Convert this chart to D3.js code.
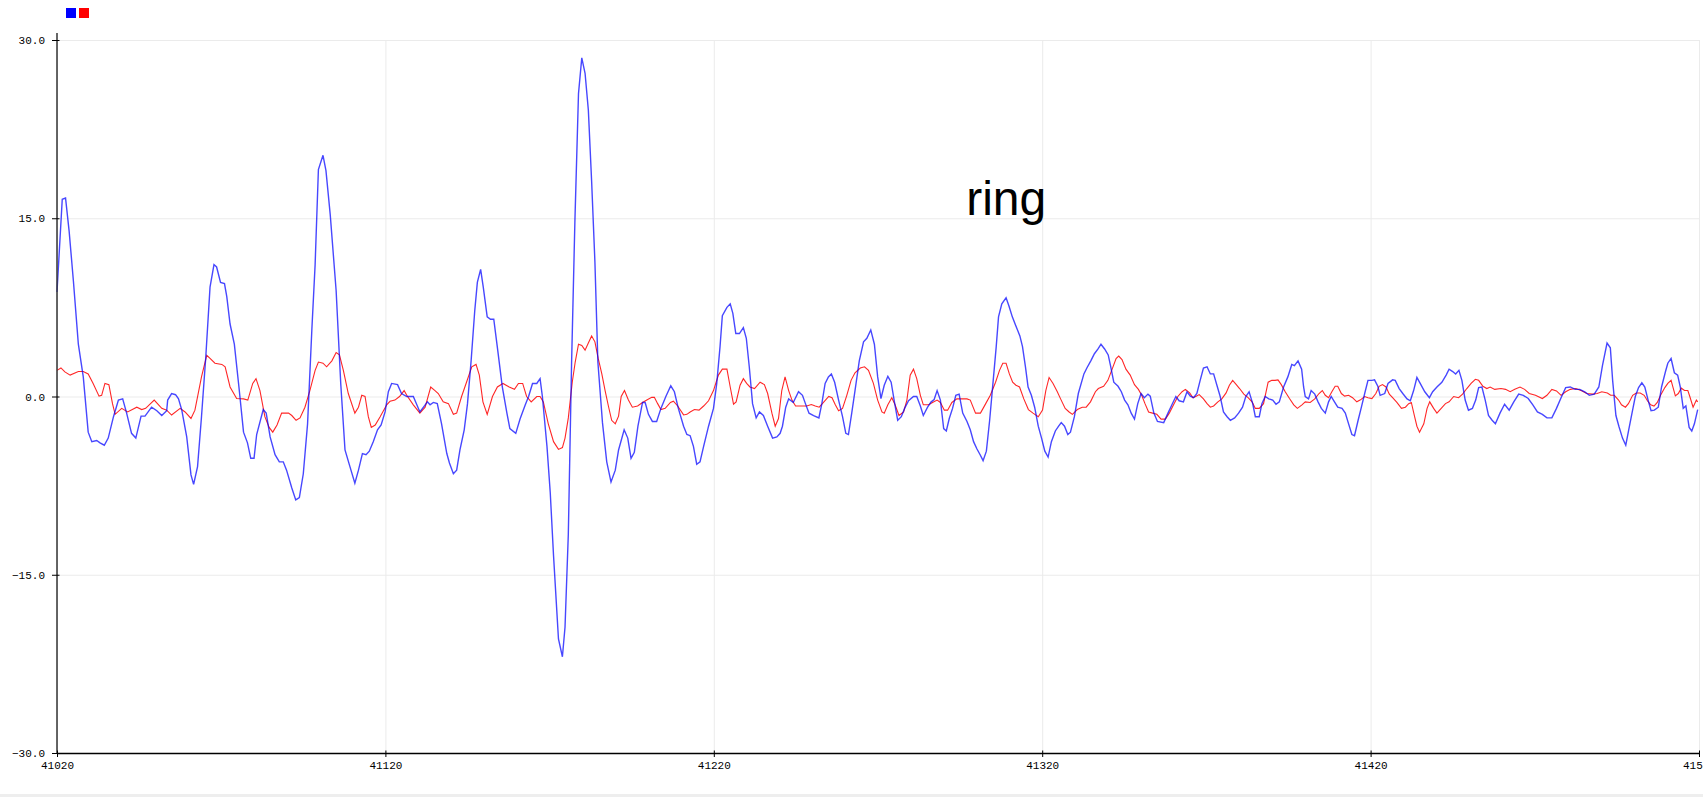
<html>
<head>
<meta charset="utf-8">
<script src="https://d3js.org/d3.v7.min.js"></script>
<style>
body{margin:0;background:#fff;overflow:hidden;}
.tick text{font-family:"Liberation Mono","DejaVu Sans Mono",monospace;font-size:11px;fill:#000;}
</style>
</head>
<body>
<div id="chart"></div>
<script>
// serial plotter window: samples 41020..41520
const X0 = 41020;
const xTicks = [41020, 41120, 41220, 41320, 41420, 41520];
const yTicks = [-30, -15, 0, 15, 30];
const seriesColors = ['blue', 'red'];
const label = 'ring';

// [sample offset from X0, value]
const blue = [[0,8.8],[1.6,16.6],[2.6,16.7],[3.7,13.9],[5,9.7],[6.5,4.4],[8,1.65],[9.5,-3.0],[10.6,-3.8],[12.1,-3.7],[13.1,-3.9],[14.4,-4.1],[15.6,-3.5],[17.2,-1.7],[18.7,-0.3],[20,-0.2],[21.2,-1.4],[22.7,-3.1],[24,-3.5],[25.6,-1.65],[26.8,-1.65],[28.8,-0.9],[30.4,-1.2],[31.9,-1.6],[33.4,-1.2],[33.7,-0.3],[34.9,0.25],[36.1,0.15],[37,-0.2],[38,-1.15],[39.5,-3.4],[40.8,-6.6],[41.6,-7.4],[42.8,-5.9],[44,-1.7],[45.3,3.3],[46.6,9.2],[47.8,11.1],[48.6,10.9],[49.8,9.6],[51,9.5],[51.7,8.4],[52.7,6.1],[54,4.4],[55.4,0.8],[56.8,-3.0],[58,-3.9],[59,-5.2],[60,-5.2],
[60.8,-3.2],[62.8,-1.1],[63.7,-1.4],[64.9,-3.4],[66.4,-4.9],[67.7,-5.5],[68.9,-5.5],[69.9,-6.2],[71.5,-7.7],[72.7,-8.7],[73.8,-8.5],[75,-6.5],[76.3,-2.3],[77.6,5.6],[78.6,11.1],[79.6,19.1],[81,20.3],[81.9,19.0],[83.2,15.3],[85,8.9],[86.4,1.1],[87.7,-4.5],[89.2,-5.9],[90.7,-7.3],[91.8,-6.2],[93,-4.8],[94.1,-4.9],[95.1,-4.6],[96.3,-3.8],[97.6,-2.8],[98.7,-2.4],[99.9,-1.3],[100.9,0.4],[101.9,1.1],[103.7,1.0],[104.9,0.25],[106.5,0],[108.5,0],[110.5,-1.3],[111.6,-0.9],[112.8,-0.45],[113.6,-0.7],[114.6,-0.5],[115.8,-0.6],[117.1,-2.3],[118.7,-4.8],
[119.5,-5.6],[120.7,-6.5],[121.7,-6.2],[122.7,-4.5],[124,-2.8],[125,-0.6],[126.1,3.0],[127.2,7.2],[128,9.6],[129,10.7],[129.8,9.2],[131,6.7],[132,6.5],[133,6.5],[134.2,3.9],[135.6,0.8],[137,-1.4],[137.9,-2.7],[139.7,-3.1],[141,-1.9],[142.6,-0.7],[143.6,0],[144.8,1.1],[146.1,1.1],[147.1,1.5],[147.8,0],[149.2,-4.2],[150.2,-8.1],[151.2,-13.4],
[152.7,-20.4],[153.9,-21.9],[154.7,-19.4],[155.7,-11.6],[156.7,2.9],[157.7,14.7],[158.8,25.5],[159.8,28.5],[160.8,27.2],[161.8,24.1],[162.8,18.1],[163.8,11.3],[164.7,2.9],[166.1,-2.2],[167.4,-5.5],[168.7,-7.2],[170,-6.2],[171,-4.5],[172.7,-2.8],[173.8,-3.5],[174.8,-5.2],[175.8,-4.7],[176.9,-2.5],[178.3,-0.5],[179.1,-0.5],[180.1,-1.5],[181.3,-2.1],[182.6,-2.1],[183.9,-1.0],[185.4,0],[186.9,0.9],[188,0.4],[189.2,-1.0],[190.8,-2.5],[191.8,-3.2],[192.8,-3.3],[193.8,-4.2],[194.8,-5.7],
[195.8,-5.5],[196.9,-4.2],[198.4,-2.5],[199.9,-1.0],[200.9,1.1],[201.9,4.2],[202.6,6.8],[204,7.5],[205,7.8],[205.8,7.0],[206.7,5.3],[207.8,5.3],[209,5.8],[209.9,4.9],[210.8,2.5],[211.8,-0.6],[212.9,-1.8],[213.9,-1.3],[215.1,-1.6],[216.4,-2.5],[217.9,-3.5],[219.2,-3.4],[220.2,-3.1],[220.9,-2.5],[221.9,-0.9],[222.8,-0.2],[224.2,-0.5],[225.8,0.4],[227,0.1],[227.9,-0.6],[229,-1.4],[230.4,-1.6],[232,-1.8],[232.9,-0.6],[233.9,1.1],[234.9,1.65],[235.8,1.9],[236.8,1.2],[238,-0.3],[239.2,-1.7],[240.2,-3.1],[241,-3.2],[242,-1.4],[243,0.5],[244.3,3.0],[245.6,4.6],[246.6,4.9],[247.8,5.6],[248.9,4.4],[249.9,1.65],[250.9,-0.17],[251.9,0.95],[253,1.7],[254,1.2],[255,-0.45],[256,-2.0],
[257.1,-1.7],[258.1,-1.0],[259.3,-0.36],[260.8,0],[261.8,0],[262.9,-0.8],[263.8,-1.6],[265.1,-0.9],[266.2,-0.45],[267.1,-0.25],[268,0.5],[269,-0.3],[270,-2.7],[270.8,-2.9],[271.7,-1.85],[272.7,-1.0],[273.7,0.1],[274.7,0.2],[275.8,-1.4],[277.1,-2.1],[278.1,-2.8],[279.1,-3.8],[280.1,-4.4],[281.1,-4.9],[282,-5.4],[283,-4.6],[284,-2.0],[285,1.1],[286,4.2],[286.7,6.7],[287.7,7.8],[289,8.3],[289.9,7.6],[290.9,6.7],[291.9,6.0],[293.2,5.1],[294,4.2],[294.9,2.5],[295.7,0.8],[296.7,0.1],[297.7,-0.9],[298.8,-2.5],[299.8,-3.5],[300.8,-4.6],[301.8,-5.1],[302.8,-3.8],[304,-2.9],[305,-2.5],[305.8,-2.2],[306.8,-2.5],[307.8,-3.2],[308.6,-3.0],[309.8,-1.7],[311,0.25],[312.7,1.9],[313.6,2.4],[314.8,3.0],[315.9,3.6],
[317,4.0],[317.9,4.4],[319,4.0],[320.1,3.5],[320.8,2.6],[321.8,1.2],[323.1,0.86],[324.1,0.4],[325.1,-0.3],[326.1,-0.7],[327.1,-1.4],[328.1,-1.9],[329.1,-0.6],[330.1,0.25],[331.1,-0.1],[332.2,0.2],[332.9,0.03],[334,-1.4],[335.1,-2.1],[337,-2.2],[338.3,-1.4],[339.5,-0.7],[340.7,0],[341.7,-0.36],[343,-0.45],[344.1,0.4],[345.1,0.03],[346.1,-0.1],[347.1,0.25],[348.1,1.36],[349.1,2.4],[350.2,2.5],[351.2,1.9],[352.2,1.9],[353.2,0.95],[354.2,0],[355.2,-1.3],[356.3,-1.7],[357.3,-2.0],[358.6,-1.8],[359.8,-1.4],[361,-0.9],[362,0],[363,0.4],[364.1,-0.6],[364.9,-1.7],[366.1,-1.7],[366.9,-0.6],[367.9,0],[369,-0.2],[370.2,-0.3],[371.2,-0.65],[372.2,-0.45],[373.5,0.8],[374.8,1.65],[376,2.7],[376.8,2.6],[377.9,3.0],
[379,2.3],[379.6,0.8],[380.1,0],[381.1,-0.2],[381.9,0.5],[383,0.2],[384,-0.45],[385,-1.0],[386.2,-1.4],[387.2,-0.45],[388,0],[389,-0.45],[390,-0.9],[391.3,-1.0],[392.3,-1.4],[393.3,-2.3],[394.3,-3.2],[395.1,-3.3],[396.2,-2.0],[397.2,-0.9],[398.2,0.25],[399.2,1.36],[400.4,1.36],[401.2,1.4],[402.2,0.86],[402.9,0.1],[404.3,0.25],[405.3,1.1],[406.7,1.4],[407.5,1.36],[408.7,0.67],[409.8,0.25],[411.1,-0.2],[412.1,-0.36],[413.1,0.5],[414.1,1.6],[415.1,1.1],[416.5,0.4],[417.9,-0.1],[418.9,0.4],[420.2,0.8],[421.7,1.2],[423,1.8],[423.9,2.3],[425,2.1],[425.9,1.9],[426.9,2.2],[427.8,1.36],[428.8,-0.3],[429.8,-1.15],[431,-1.0],[432,-0.3],[432.9,0.75],[433.9,0.8],[434.9,-0.3],[435.9,-1.6],[437,-2.0],[438,-2.3],
[439.4,-1.4],[440.8,-0.65],[442.2,-1.15],[443.6,-0.45],[445.1,0.2],[446.5,0.1],[448,-0.17],[449.4,-0.7],[450.8,-1.3],[452.3,-1.5],[453.7,-1.8],[455.2,-1.8],[456.6,-1.0],[458,-0.1],[459.4,0.75],[460.8,0.8],[462.3,0.6],[463.7,0.6],[465.2,0.4],[466.6,0.1],[468.1,0.2],[469.5,0.8],[470.6,2.6],[472,4.5],[473,4.1],[473.7,1.36],[474.7,-1.6],[475.6,-2.5],[476.7,-3.5],[477.7,-4.1],[478.6,-2.8],[479.6,-1.4],[480.6,0],[481.6,0.75],[482.6,1.15],[483.5,0.8],[484.5,-0.3],[485.4,-1.2],[486.4,-1.15],[487.6,-0.9],[488.6,0.8],[489.8,2.1],[490.5,2.8],[491.5,3.2],[492.5,2.0],[493.5,1.8],[494.3,0.8],[495.2,-1.0],[496,-0.8],[497,-2.6],[497.8,-2.9],[498.6,-2.3],[499.6,-1.1]];

const red = [[0,2.2],[1.2,2.4],[2.4,2.07],[4,1.8],[6.5,2.1],[8,2.1],[9.5,1.9],[11,1.1],[12.8,0.03],[13.6,0.1],[14.6,1.1],[15.8,1.0],[16.9,-0.6],[17.7,-1.5],[19.7,-1.0],[21.5,-1.3],[24.3,-0.9],[25.8,-1.1],[27,-1.0],[29.6,-0.3],[31.9,-1.0],[33.4,-1.15],[34.9,-1.56],[37.5,-1.0],[39,-1.3],[40.8,-1.85],[42,-1.15],[44,1.65],[45.6,3.46],[46.6,3.2],[48.1,2.8],[50.2,2.7],[51.2,2.5],[52.7,0.8],[54.7,-0.17],[56.8,-0.2],[58.1,-0.3],
[59.6,1.1],[60.6,1.5],[61.8,0.5],[63.3,-1.7],[64.6,-2.6],[65.7,-3.0],[67,-2.4],[68.4,-1.4],[70.5,-1.4],[71.5,-1.6],[72.8,-2.0],[74,-1.8],[75.5,-0.9],[77,0.5],[78.6,2.2],[79.6,2.9],[81,2.8],[82.1,2.5],[83.7,3.0],[85,3.7],[86,3.5],[87.2,2.2],[88.7,0.25],[90.7,-1.4],[91.8,-0.9],[92.8,0.1],[93.8,0],[94.8,-1.7],[95.7,-2.6],[96.9,-2.4],[98.4,-1.7],[100.4,-0.7],[101.4,-0.4],[102.9,-0.3],[104.3,0],[105.7,0.5],[106.5,0.1],[108.5,-0.7],[110.5,-1.4],[112.1,-0.9],[113.8,0.8],[115.1,0.5],[116.1,0.25],[117.6,-0.45],
[119.2,-0.6],[120.7,-1.5],[121.7,-1.4],[123.2,0],[124.7,1.2],[126.3,2.5],[127.6,2.7],[128.6,1.8],[129.7,-0.45],[131,-1.5],[132.6,0],[134.1,0.8],[135.8,1.1],[137.7,0.8],[139.3,0.6],[140.5,1.1],[141.8,1.1],[143,0],[144.4,-0.45],[146.1,0],[147.1,0],[148.1,-0.45],[149.6,-2.3],[151.2,-3.8],[152.7,-4.45],
[153.9,-4.3],[154.7,-3.5],[155.7,-1.8],[156.9,1.2],[157.8,2.9],[158.8,4.4],[159.8,4.3],[160.8,3.9],[161.8,4.5],[162.8,5.1],[163.8,4.6],[164.8,3.2],[165.9,1.9],[166.9,0.5],[167.9,-0.8],[168.9,-2.0],[170,-2.3],[171,-1.65],[171.8,0],[172.8,0.5],[174,-0.3],[175.2,-0.9],[176.8,-0.8],[178.3,-0.5],[179.6,-0.3],[181.1,-0.07],[181.9,-0.07],[182.9,-0.6],[183.9,-1.1],[185.2,-1.0],[186.8,-0.5],[187.7,-0.4],[189,-0.8],[190.8,-1.55],[191.8,-1.5],[192.8,-1.3],[194.1,-1.1],[195.5,-1.15],
[196.9,-0.8],[198.4,-0.36],[199.9,0.5],[201.4,1.8],[202.6,2.3],[204,2.3],[205,0.8],[206,-0.65],[206.8,-0.45],[208,0.95],[209,1.5],[210,1.1],[211,0.8],[212.4,0.67],[214.1,1.2],[215.4,1.0],[216.4,0.25],[217.7,-1.4],[218.7,-2.5],[219.7,-1.85],[220.7,0.5],[221.7,1.65],[222.8,0.5],[223.8,-0.3],[224.9,-0.8],[226.8,-0.8],[228.3,-0.8],[229.7,-0.67],[230.9,-0.8],[232.1,-0.9],[233.4,-0.5],[235,0],[236,-0.1],[237,-0.7],[238,-1.2],[239.2,-1.0],[240.5,0.1],[241.8,1.36],[243,2.0],[244.6,2.4],[245.9,2.5],[247.1,2.2],[248.6,1.1],[249.9,-0.3],[251.2,-1.3],[251.9,-1.4],[253,-0.7],[254.2,-0.1],[255.2,-0.7],
[256.4,-1.6],[257.8,-1.3],[258.8,-0.3],[259.8,1.8],[260.8,2.3],[261.8,1.5],[262.9,0.1],[263.8,-0.7],[265.4,-0.7],[266.6,-0.5],[268,-0.3],[269,-0.5],[270.2,-1.15],[271.2,-1.15],[272.5,-0.5],[274,-0.2],[275.5,-0.2],[277.1,-0.2],[278.1,-0.3],[279.7,-1.4],[281.2,-1.4],[282.8,-0.6],[284.2,0.1],[285.8,1.2],[287,2.2],[288,2.8],[289,2.8],[290,1.9],[291,1.2],[292,0.95],[293.1,0.8],[294.4,-0.2],[295.8,-1.1],[297.2,-1.4],[298.8,-1.7],[300.1,-1.15],[301.1,0.5],[302.1,1.6],[303.3,1.1],[304.6,0.4],[305.6,-0.2],[307,-1.0],[308.2,-1.3],[309.2,-1.5],[310.7,-1.1],[312.2,-0.9],[313.4,-0.9],[314.7,-0.45],[316.2,0.4],
[317.1,0.67],[318.7,0.86],[320,1.36],[321.3,2.3],[322.5,3.2],[323.3,3.4],[324.3,3.1],[325.5,2.3],[326.8,1.8],[328.1,1.0],[329.3,0.6],[330.3,0.1],[331.3,-0.6],[332.4,-1.3],[333.6,-1.4],[334.9,-1.5],[336.2,-1.9],[337.5,-1.9],[338.7,-1.4],[340,-0.7],[341.3,0],[342.6,0.4],[343.6,0.6],[344.9,0.3],[345.9,-0.1],[346.9,0.03],[347.8,0.16],[349.1,-0.2],[350.2,-0.6],[351.2,-0.9],[352.2,-0.8],[353.5,-0.45],[354.7,-0.2],[356,0.3],[357,0.95],[358,1.36],[359.1,1.0],[360.1,0.67],[361.4,0.2],[362.7,-0.1],[363.9,-0.45],[364.9,-1.0],[366.1,-1.0],[367.4,-0.6],[368.8,1.2],[369.9,1.36],[370.9,1.36],[371.8,1.4],[372.8,1.0],[374,0.4],[375.3,-0.17],[376.6,-0.7],[377.7,-1.0],
[379.1,-0.7],[380.1,-0.45],[381.6,-0.5],[383,-0.2],[384.3,0.25],[385.3,0.5],[386.2,0.1],[387.2,-0.1],[388.2,0.4],[389.2,0.86],[390,0.86],[391.1,0.25],[392.1,0.03],[393.3,0.1],[394.5,-0.1],[395.8,-0.45],[396.8,-0.3],[398.2,0],[399.2,-0.1],[400.4,-0.17],[401.6,0.25],[402.6,0.86],[403.6,1.0],[404.7,0.8],[405.7,0.2],[406.7,-0.1],[408,-0.5],[409.4,-1.0],[410.6,-0.9],[411.6,-0.6],[412.4,-0.5],[413.4,-1.7],[414.1,-2.5],[414.9,-3.0],[416.2,-2.3],[417.2,-1.0],[418,-0.45],[419.2,-1.0],[420.2,-1.4],[421.5,-1.0],[422.8,-0.6],[423.9,-0.45],[425.3,0],[426.8,-0.1],[428,0.2],[429.3,0.67],[430.6,1.1],[431.9,1.45],[432.9,1.36],[434.2,0.86],[435.4,0.67],[436.4,0.8],[437.8,0.6],
[439.7,0.67],[441.1,0.6],[442.5,0.4],[443.9,0.6],[445.5,0.8],[446.9,0.6],[448.3,0.25],[450.2,0.1],[452.3,-0.17],[453.7,0.1],[455.2,0.6],[456.6,0.47],[458,0.1],[459.4,0.4],[460.8,0.6],[462.5,0.67],[464.4,0.47],[465.8,0.25],[467.6,0.2],[469,0.25],[470.4,0.4],[472.1,0.3],[473.1,0.1],[474.2,0.1],[475.5,-0.3],[476.4,-0.7],[477.6,-0.9],[478.5,-0.6],[479.8,0.1],[480.9,0.3],[482.1,0.3],[483.3,0.1],[484.3,-0.36],[485.3,-0.7],[486.3,-0.8],[487.3,-0.5],[488.3,0.1],[489.6,0.75],[490.5,1.1],[491.5,1.36],[492,0.86],[492.8,0.05],[493.7,0.25],[494.6,0.7],[495.6,0.5],[496.6,0.5],[497.2,0],[498.2,-0.9],[499.2,-0.3],[499.6,-0.45]];

const width = 1703;
const height = 797;
const margin = {top:40, left:57, bottom:44, right:4};
const plotWidth = width - (margin.left + margin.right);
const plotHeight = height - (margin.top + margin.bottom);

const x = d3.scaleLinear().domain([xTicks[0], xTicks[xTicks.length-1]]).range([0, plotWidth]);
const y = d3.scaleLinear().domain([-30, 30]).range([plotHeight, 0]);

const svg = d3.select('#chart').append('svg')
  .attr('width', width)
  .attr('height', height)
  .style('overflow', 'visible');

svg.append('rect').attr('width', width).attr('height', height).attr('fill', '#fff');
// grey strip at the bottom of the window
svg.append('rect').attr('x', 0).attr('y', 794).attr('width', width).attr('height', 3).attr('fill', '#eeeeee');

// legend squares
svg.selectAll('rect.key')
  .data(seriesColors)
  .enter()
  .append('rect')
    .attr('class', 'key')
    .attr('x', (d,i) => 66 + i*13)
    .attr('y', 8)
    .attr('width', 10)
    .attr('height', 10)
    .attr('fill', d => d);

const g = svg.append('g').attr('transform', `translate(${margin.left},${margin.top})`);

// grid
g.append('g')
  .call(d3.axisLeft(y).tickValues(yTicks).tickSize(-plotWidth).tickFormat(''))
  .call(s => s.select('.domain').remove())
  .selectAll('line').attr('stroke', '#ebebeb');
g.append('g')
  .call(d3.axisBottom(x).tickValues(xTicks).tickSize(plotHeight).tickFormat(''))
  .call(s => s.select('.domain').remove())
  .selectAll('line').attr('stroke', '#ebebeb');

// label in the plot
g.append('text')
  .attr('x', x(41320) - 76)
  .attr('y', y(15) - 3)
  .attr('font-family', '"Liberation Sans", Arial, sans-serif')
  .attr('font-size', 48)
  .attr('fill', '#000')
  .text(label);

const line = d3.line()
  .x(d => x(X0 + d[0]))
  .y(d => y(d[1]));

g.append('path')
  .datum(red)
  .attr('fill', 'none')
  .attr('stroke', 'red')
  .attr('stroke-opacity', 0.85)
  .attr('stroke-width', 1.1)
  .attr('d', line);

g.append('path')
  .datum(blue)
  .attr('fill', 'none')
  .attr('stroke', 'blue')
  .attr('stroke-opacity', 0.72)
  .attr('stroke-width', 1.4)
  .attr('d', line);

// axes
const yAxis = g.append('g')
  .call(d3.axisLeft(y).tickValues(yTicks).tickFormat(d3.format('.1f')).tickSizeInner(5).tickSizeOuter(0).tickPadding(6));
yAxis.select('.domain').attr('stroke', '#333').attr('stroke-width', 1.5).attr('d', `M0,-7V${plotHeight}`);
yAxis.selectAll('.tick line').attr('x1', 2.5).attr('stroke', '#000');
yAxis.selectAll('.tick text').attr('dx', -1);

const xAxis = g.append('g')
  .attr('transform', `translate(0,${plotHeight})`)
  .call(d3.axisBottom(x).tickValues(xTicks).tickFormat(d3.format('d')).tickSizeInner(4).tickSizeOuter(0).tickPadding(4));
xAxis.select('.domain').attr('stroke', '#000').attr('stroke-width', 1.5);
xAxis.selectAll('.tick line').attr('y1', -2.5).attr('stroke', '#000');
xAxis.selectAll('.tick text').attr('text-anchor', 'middle');
</script>
</body>
</html>
